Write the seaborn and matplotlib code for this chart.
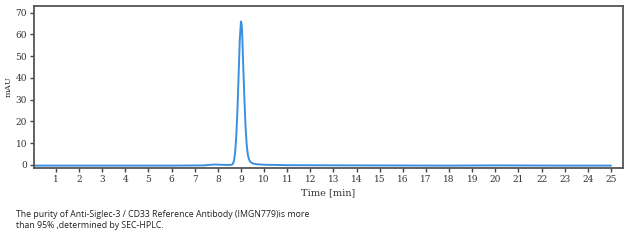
import matplotlib
matplotlib.use("Agg")
import matplotlib.pyplot as plt
import seaborn as sns
import pandas as pd

# Chromatogram values
time_min = [0.0, 3.0, 6.0, 7.4, 7.7, 7.9, 8.1, 8.4, 8.6, 8.65, 8.70, 8.75, 8.80, 8.85,
            8.90, 8.95, 9.00, 9.03, 9.05, 9.10, 9.15, 9.20, 9.25, 9.30, 9.35,
            9.40, 9.50, 9.70, 10.0, 11.0, 14.0, 18.0, 20.0, 23.0, 25.0]
signal_mau = [-0.3, -0.3, -0.3, -0.2, 0.1, 0.2, 0.1, 0.0, 0.1, 0.5, 2.0, 6.0, 14.0, 26.0,
              42.0, 58.0, 66.0, 64.5, 61.0, 45.0, 30.0, 17.0, 9.0, 4.5, 2.5,
              1.5, 0.7, 0.3, 0.1, -0.1, -0.2, -0.3, -0.2, -0.3, -0.3]
x_ticks = list(range(1, 26))
y_ticks = list(range(0, 71, 10))
caption = ("The purity of Anti-Siglec-3 / CD33 Reference Antibody (IMGN779)is more\n"
           "than 95% ,determined by SEC-HPLC.")

df = pd.DataFrame({"Time": time_min, "mAU": signal_mau})

sns.set_style("white")
fig = plt.figure(figsize=(6.35, 2.40), dpi=100)
ax = fig.add_axes([34/635, 1 - 168/240, (623 - 34)/635, (168 - 6)/240])

sns.lineplot(data=df, x="Time", y="mAU", ax=ax, color="#3b8fe0", linewidth=1.4)

ax.set_xlim(0.05, 25.52)
ax.set_ylim(-1.4, 73.1)
ax.set_xticks(x_ticks)
ax.set_yticks(y_ticks)
serif = "DejaVu Serif"
ax.set_xticklabels([str(t) for t in x_ticks], fontsize=6.5, family=serif, color="#333333")
ax.set_yticklabels([str(t) for t in y_ticks], fontsize=6.5, family=serif, color="#333333")
ax.tick_params(axis="both", direction="out", length=3, width=1, color="#444444", pad=2,
               bottom=True, left=True)
for s in ax.spines.values():
    s.set_color("#555555")
    s.set_linewidth(1.3)
ax.set_xlabel("Time [min]", fontsize=7, family=serif, color="#333333", labelpad=3)
ax.set_ylabel("mAU", fontsize=6, family=serif, color="#333333")
ax.yaxis.set_label_coords(-0.036, 0.5)

fig.text(16/635, 1 - 210/240, caption, fontsize=6.3, family="Open Sans", color="#222222",
         va="top", ha="left", linespacing=1.35)

fig.savefig("out.png", dpi=100, facecolor="white")
